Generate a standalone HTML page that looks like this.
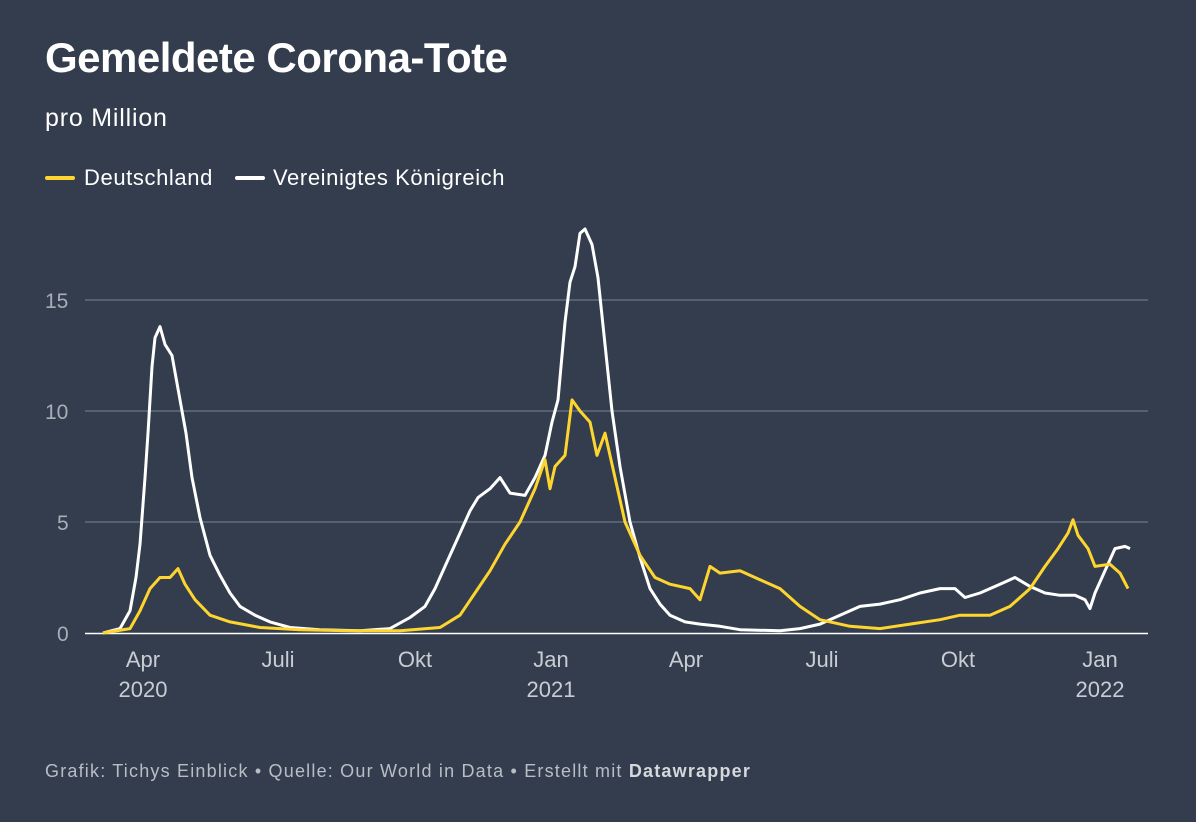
<!DOCTYPE html>
<html><head><meta charset="utf-8"><style>
html,body{margin:0;padding:0;background:#333d4d;}
body{width:1196px;height:822px;position:relative;overflow:hidden;font-family:"Liberation Sans",sans-serif;color:#fff;}
.t{position:absolute;left:45px;top:34px;font-size:42px;font-weight:bold;letter-spacing:-0.5px;}
.s{position:absolute;left:45px;top:104px;font-size:25px;letter-spacing:0.8px;}
.lg{position:absolute;top:165px;font-size:22px;letter-spacing:0.6px;}
.sw{position:absolute;top:176px;width:30px;height:4px;border-radius:2px;}
.f{position:absolute;left:45px;top:761px;font-size:18px;color:#b9bec6;letter-spacing:1.2px;}
</style></head><body>
<div class="t">Gemeldete Corona-Tote</div>
<div class="s">pro Million</div>
<div class="sw" style="left:45px;background:#fed52e"></div><div class="lg" style="left:84px">Deutschland</div>
<div class="sw" style="left:235px;background:#fff"></div><div class="lg" style="left:273px">Vereinigtes Königreich</div>
<svg width="1196" height="822" style="position:absolute;left:0;top:0" font-family="Liberation Sans, sans-serif">
<g stroke="#7b8290" stroke-width="1">
<line x1="85" x2="1148" y1="300" y2="300"/><line x1="85" x2="1148" y1="411" y2="411"/><line x1="85" x2="1148" y1="522" y2="522"/>
</g>
<line x1="85" x2="1148" y1="633.5" y2="633.5" stroke="#fff" stroke-width="1.5"/>
<g fill="#a8aeb8" font-size="21">
<text x="45" y="308">15</text><text x="45" y="419">10</text><text x="57" y="530">5</text><text x="57" y="641">0</text>
</g>
<g fill="#c9cdd3" font-size="22" text-anchor="middle">
<text x="143" y="667">Apr</text><text x="143" y="697">2020</text>
<text x="278" y="667">Juli</text><text x="415" y="667">Okt</text>
<text x="551" y="667">Jan</text><text x="551" y="697">2021</text>
<text x="686" y="667">Apr</text><text x="822" y="667">Juli</text><text x="958" y="667">Okt</text>
<text x="1100" y="667">Jan</text><text x="1100" y="697">2022</text>
</g>
<polyline id="uk" fill="none" stroke="#fff" stroke-width="3" stroke-linejoin="round"/>
<polyline id="de" fill="none" stroke="#fed52e" stroke-width="3" stroke-linejoin="round"/>
</svg>
<div class="f">Grafik: Tichys Einblick • Quelle: Our World in Data • Erstellt mit <b style="color:#d5d8dd">Datawrapper</b></div>
<script>
var uk=[103,0,120,0.2,130,1,136,2.5,140,4,145,7,148,9,152,12,155,13.3,160,13.8,165,13,172,12.5,180,10.5,186,9,192,7,200,5.2,210,3.5,220,2.6,230,1.8,240,1.2,255,0.8,270,0.5,290,0.25,320,0.15,360,0.1,390,0.2,410,0.7,425,1.2,435,2,445,3,460,4.5,470,5.5,478,6.1,490,6.5,500,7,510,6.3,525,6.2,535,7,545,8,552,9.5,558,10.5,565,14,570,15.8,575,16.5,580,18,585,18.2,592,17.5,598,16,605,13,612,10,620,7.5,630,5,640,3.4,650,2,660,1.3,670,0.8,685,0.5,700,0.4,720,0.3,740,0.15,780,0.1,800,0.2,820,0.4,840,0.8,860,1.2,880,1.3,900,1.5,920,1.8,940,2.0,955,2.0,965,1.6,980,1.8,1000,2.2,1015,2.5,1030,2.1,1045,1.8,1060,1.7,1075,1.7,1085,1.5,1090,1.1,1095,1.8,1105,2.8,1115,3.8,1125,3.9,1130,3.8];
var de=[103,0,130,0.2,140,1,150,2,160,2.5,170,2.5,178,2.9,185,2.2,195,1.5,210,0.8,230,0.5,260,0.25,300,0.15,350,0.1,400,0.1,440,0.25,460,0.8,475,1.8,490,2.8,505,4,520,5,535,6.5,545,7.8,550,6.5,555,7.5,565,8,572,10.5,580,10,590,9.5,597,8,605,9,615,7,625,5,640,3.5,655,2.5,670,2.2,690,2,700,1.5,710,3,720,2.7,740,2.8,760,2.4,780,2,800,1.2,820,0.6,850,0.3,880,0.2,910,0.4,940,0.6,960,0.8,990,0.8,1010,1.2,1030,2,1045,3,1058,3.8,1068,4.5,1073,5.1,1078,4.4,1088,3.8,1095,3,1110,3.1,1120,2.7,1128,2];
function p(a){var s=[];for(var i=0;i<a.length;i+=2)s.push(a[i]+","+(633-a[i+1]*22.2).toFixed(1));return s.join(" ");}
document.getElementById("uk").setAttribute("points",p(uk));
document.getElementById("de").setAttribute("points",p(de));
</script>
</body></html>
